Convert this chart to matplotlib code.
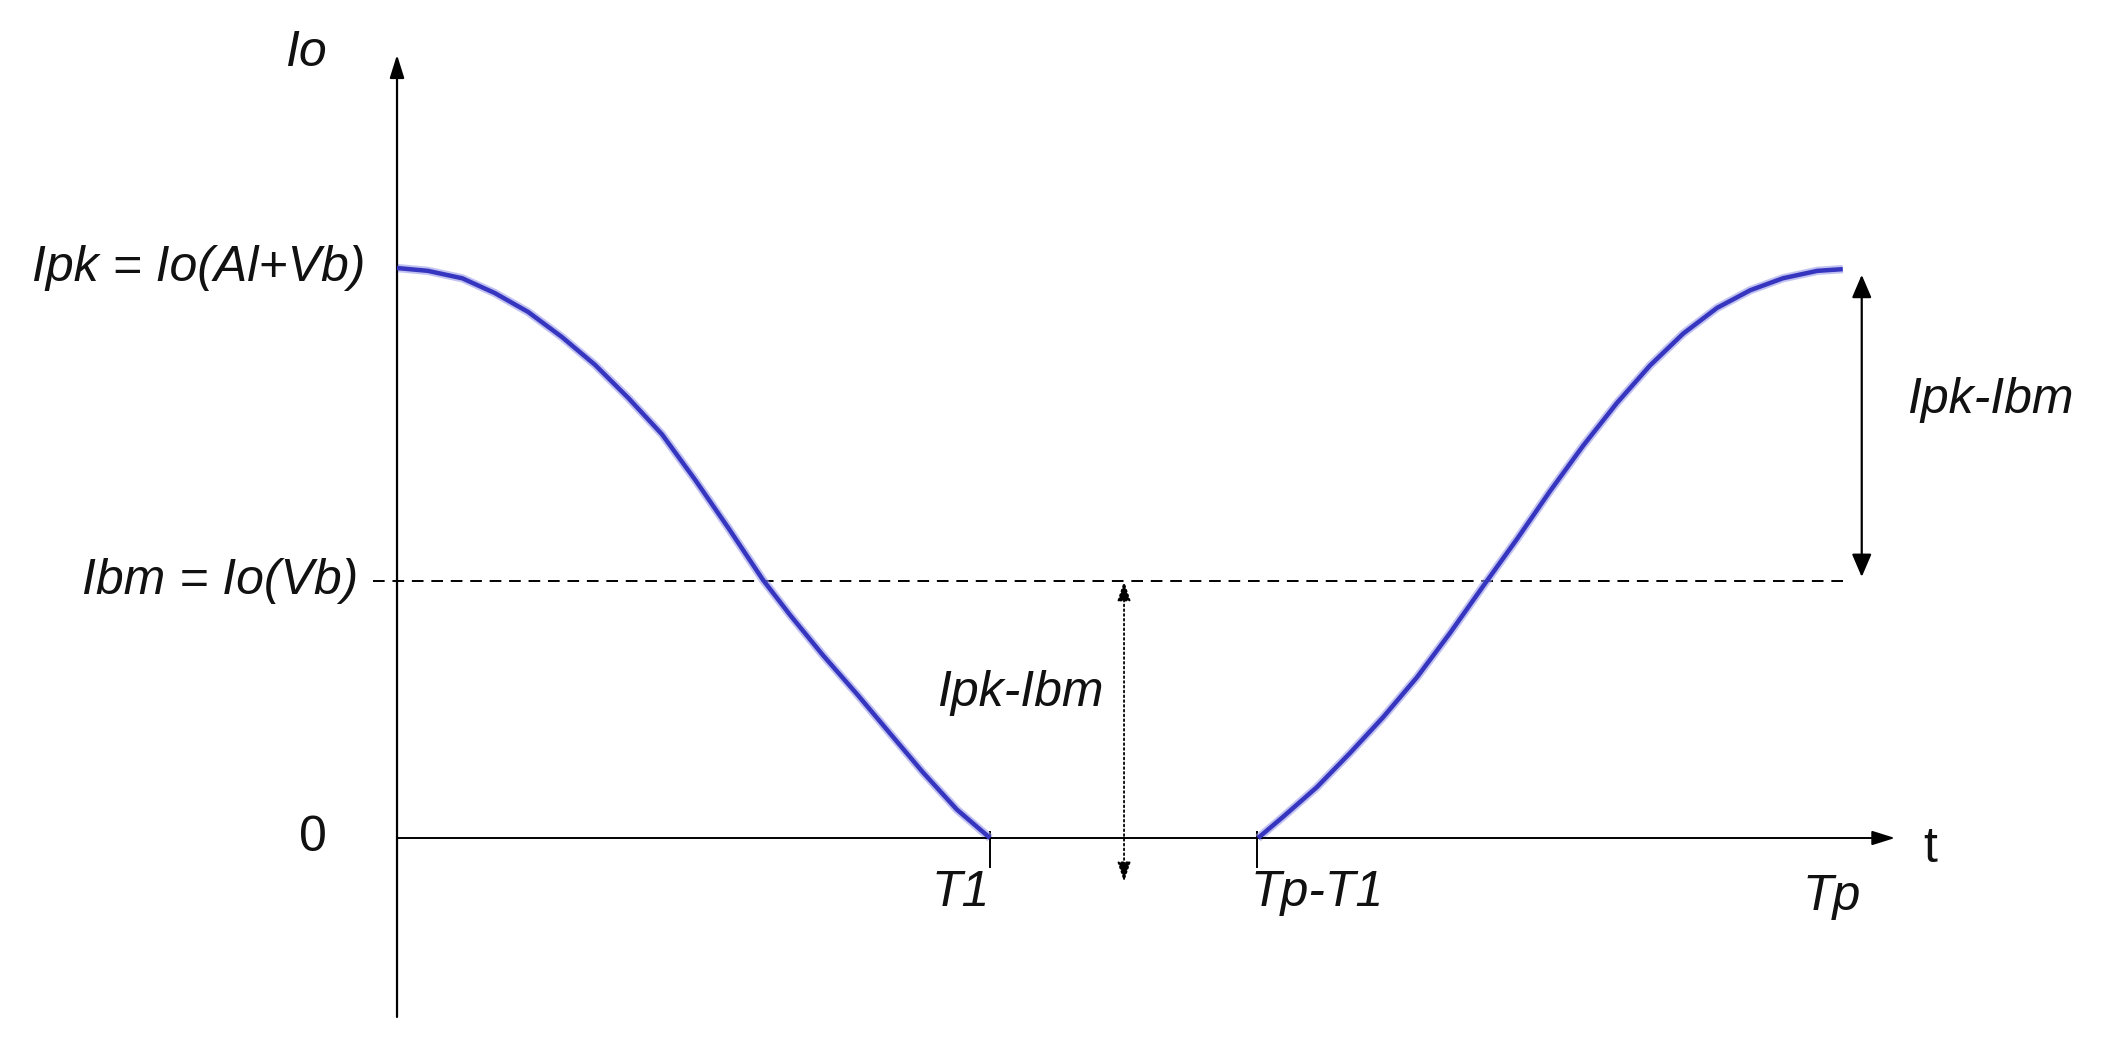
import matplotlib.pyplot as plt

# levels (Io units, Ipk = 1)
Ipk = 1.0
Ibm = 0.451

# time marks (T1 = 1)
t_marks = [1.0, 1.45, 2.44]
t_labels = ["T1", "Tp-T1", "Tp"]

# falling edge 0 .. T1
t_fall = [0.0, 0.052, 0.110, 0.165, 0.221, 0.278, 0.334, 0.390, 0.447, 0.503,
          0.560, 0.617, 0.663, 0.718, 0.776, 0.831, 0.887, 0.944, 1.0]
io_fall = [1.0, 0.995, 0.982, 0.956, 0.923, 0.879, 0.830, 0.772, 0.708, 0.628,
           0.542, 0.453, 0.391, 0.321, 0.252, 0.184, 0.115, 0.050, 0.0]

# rising edge Tp-T1 .. Tp
t_rise = [1.452, 1.494, 1.551, 1.607, 1.663, 1.720, 1.776, 1.831, 1.889, 1.944,
          2.000, 2.057, 2.113, 2.169, 2.226, 2.282, 2.337, 2.395, 2.438]
io_rise = [0.0, 0.037, 0.089, 0.149, 0.212, 0.282, 0.360, 0.441, 0.525, 0.608,
           0.688, 0.763, 0.829, 0.885, 0.930, 0.961, 0.982, 0.995, 0.998]

plt.rcParams['font.family'] = ['Liberation Sans', 'DejaVu Sans']
fs = 36

fig = plt.figure(figsize=(21.14, 10.42), dpi=100)
ax = fig.add_axes([0, 0, 1, 1])
ax.set_xlim(-0.6695, 2.8954)
ax.set_ylim(-0.3579, 1.4702)
ax.axis('off')

blue = '#3535c0'
for t, io in [(t_fall, io_fall), (t_rise, io_rise)]:
    ax.plot(t, io, color='#9a9ae8', lw=6, alpha=0.6, solid_capstyle='butt',
            solid_joinstyle='round', zorder=3)
    ax.plot(t, io, color=blue, lw=3.2, solid_capstyle='butt',
            solid_joinstyle='round', zorder=4)

# axes with arrows
ax.annotate('', xy=(0, 1.374), xytext=(0, -0.314),
            arrowprops=dict(arrowstyle='-|>,head_length=0.7,head_width=0.22',
                            color='k', lw=1.6, shrinkA=0, shrinkB=0, mutation_scale=20))
ax.annotate('', xy=(2.526, 0), xytext=(0, 0),
            arrowprops=dict(arrowstyle='-|>,head_length=0.7,head_width=0.22',
                            color='k', lw=1.4, shrinkA=0, shrinkB=0, mutation_scale=20))

# tick marks on t axis
for tm in t_marks[:2]:
    ax.plot([tm, tm], [0.01, -0.051], color='k', lw=1.4)

# Ibm dashed level
ax.plot([-0.040, t_marks[2]], [Ibm, Ibm], color='k', lw=1.4, ls=(0, (6, 4)))

# dotted double arrow (Ipk-Ibm)
ax.annotate('', xy=(1.226, Ibm), xytext=(1.226, -0.077),
            arrowprops=dict(arrowstyle='<|-|>,head_length=0.6,head_width=0.2',
                            color='k', lw=1.3, ls=':', shrinkA=0, shrinkB=0,
                            mutation_scale=20))
# solid double arrow (Ipk-Ibm)
ax.annotate('', xy=(2.470, 0.988), xytext=(2.470, 0.458),
            arrowprops=dict(arrowstyle='<|-|>,head_length=0.7,head_width=0.3',
                            color='k', lw=1.6, shrinkA=0, shrinkB=0,
                            mutation_scale=20))

it = dict(fontsize=fs, style='italic', color='#111111')
ax.text(-0.153, 1.377, "Io", ha='center', va='center', **it)
ax.text(-0.054, Ipk, "Ipk = Io(Al+Vb)", ha='right', va='center', **it)
ax.text(-0.066, Ibm, "Ibm = Io(Vb)", ha='right', va='center', **it)
ax.text(-0.118, 0, "0", ha='right', va='center', fontsize=fs, color='#111111')
ax.text(2.585, -0.019, "t", ha='center', va='center', fontsize=fs, color='#111111')

ax.text(t_marks[0], -0.097, t_labels[0], ha='right', va='center', **it)
ax.text(t_marks[1] - 0.01, -0.097, t_labels[1], ha='left', va='center', **it)
ax.text(t_marks[2] - 0.02, -0.103, t_labels[2], ha='center', va='center', **it)

ax.text(1.191, 0.254, "Ipk-Ibm", ha='right', va='center', **it)
ax.text(2.546, 0.768, "Ipk-Ibm", ha='left', va='center', **it)

fig.savefig('out.png', dpi=100, facecolor='white')
